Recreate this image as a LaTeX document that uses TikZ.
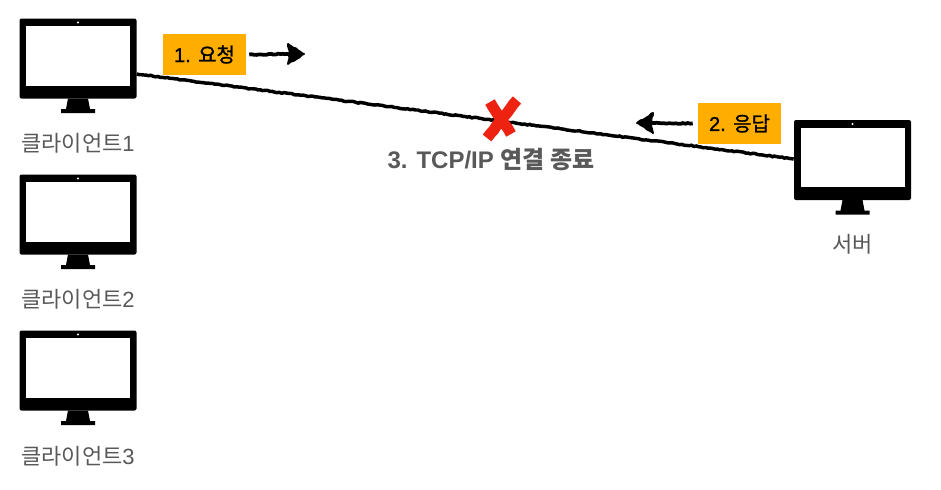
\documentclass[tikz,border=0pt]{standalone}
\usepackage{fontspec}
\setmainfont{Liberation Sans}
\newfontfamily\cjk{Noto Sans CJK KR}
\newfontfamily\cjkm[FakeBold=1.2]{Noto Sans CJK KR}
\newfontfamily\latm[FakeBold=1.2]{Liberation Sans}
\usetikzlibrary{decorations.pathmorphing}
\definecolor{txtgray}{HTML}{595959}
\definecolor{tagorange}{HTML}{FFAE00}
\definecolor{xred}{HTML}{EE2211}
\tikzset{
  x=0.75pt,y=-0.75pt,
  monitor/.style={draw=none,inner sep=0pt,minimum width=87.75pt,minimum height=60pt,rectangle},
  clientlabel/.style={text=txtgray,inner sep=0pt,font=\fontsize{16.5}{18}\selectfont},
  tag/.style={fill=tagorange,text=black,inner sep=0pt,minimum width=62.25pt,minimum height=30.75pt,font=\fontsize{15}{17}\selectfont},
  rough/.style={black,decorate,decoration={random steps,segment length=1.8pt,amplitude=0.4pt}},
  wire/.style={rough,line width=2.6pt},
  shaft/.style={rough,line width=2.8pt},
  head/.style={rough,fill=black,line width=1.4pt,line join=round},
  cross/.style={xred,line width=8.2pt,decorate,decoration={random steps,segment length=4pt,amplitude=0.3pt}}
}
\newcommand{\monitorat}[3]{%
  \node[monitor] (#1) at (#2,#3) {};
  \begin{scope}[shift={(#2,#3)}]
    \fill[black,rounded corners=1.5pt] (-58.5,-40) rectangle (58.5,40);
    \fill[white] (-52,-32.5) rectangle (52,27);
    \fill[white] (0,-36) circle (1.2);
    \fill[black] (-10,40) -- (10,40) -- (12,50.5) -- (17,50.5) -- (17,54.5) -- (-17,54.5) -- (-17,50.5) -- (-12,50.5) -- cycle;
  \end{scope}}
\begin{document}
\begin{tikzpicture}
\useasboundingbox (0,0) rectangle (941,489);
\fill[white] (0,0) rectangle (941,489);
\monitorat{cA}{78}{58.5}
\monitorat{cB}{78}{214.5}
\monitorat{cC}{78}{370.5}
\monitorat{srv}{852.5}{160}
\node[clientlabel] (lA) at (78,143.5) {{\cjk 클라이언트}1};
\node[clientlabel] (lB) at (78,299.5) {{\cjk 클라이언트}2};
\node[clientlabel] (lC) at (78,456) {{\cjk 클라이언트}3};
\node[clientlabel] (lS) at (852.5,244.5) {{\cjk 서버}};
\draw[wire] ([yshift=-11.6pt]cA.east) -- ([yshift=0.75pt]srv.west);
\node[tag] (req) at (204.5,54.5) {{\latm 1.} {\cjkm 요청}};
\node[tag] (res) at (739.5,123.5) {{\latm 2.} {\cjkm 응답}};
\coordinate (reqEnd) at (304,54);
\coordinate (resEnd) at (637,123);
\draw[shaft] (req.east) ++(3,0) -- (290,54);
\draw[head] (reqEnd) -- (288,44) -- (290,54) -- (288,64) -- cycle;
\draw[shaft] (res.west) ++(-5,0) -- (652,123);
\draw[head] (resEnd) -- (653,113) -- (651,123) -- (653,133) -- cycle;
\draw[cross] (490,102) -- (511,134);
\draw[cross] (517,100) -- (487,138);
\node[text=txtgray,inner sep=0pt,font=\bfseries\fontsize{18}{20}\selectfont] (end) at (491,160) {3. TCP/IP {\cjk\bfseries 연결 종료}};
\end{tikzpicture}
\end{document}
